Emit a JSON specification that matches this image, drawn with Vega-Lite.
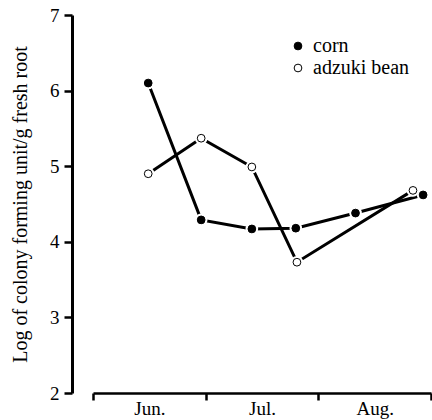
{
  "$schema": "https://vega.github.io/schema/vega-lite/v6.json",
  "autosize": "none",
  "width": 338,
  "height": 378,
  "padding": {"left": 93, "top": 15, "right": 1, "bottom": 27},
  "background": "white",
  "config": {
    "view": {"stroke": null},
    "axis": {"grid": false, "domainColor": "black", "tickColor": "black", "labelColor": "black", "titleColor": "black", "titleFontWeight": "normal"}
  },
  "data": {"values": [
    {"series": "corn", "month": 0.49, "value": 6.1},
    {"series": "corn", "month": 0.96, "value": 4.29},
    {"series": "corn", "month": 1.41, "value": 4.17},
    {"series": "corn", "month": 1.80, "value": 4.18},
    {"series": "corn", "month": 2.33, "value": 4.38},
    {"series": "corn", "month": 2.93, "value": 4.62},
    {"series": "adzuki bean", "month": 0.49, "value": 4.9},
    {"series": "adzuki bean", "month": 0.96, "value": 5.37},
    {"series": "adzuki bean", "month": 1.41, "value": 4.99},
    {"series": "adzuki bean", "month": 1.81, "value": 3.73},
    {"series": "adzuki bean", "month": 2.84, "value": 4.68}
  ]},
  "encoding": {
    "x": {
      "field": "month", "type": "quantitative",
      "scale": {"domain": [0, 3], "nice": false, "zero": false},
      "axis": {
        "title": null,
        "values": [0, 0.5, 1, 1.5, 2, 2.5, 3],
        "labelExpr": "datum.value == 0.5 ? 'Jun.' : datum.value == 1.5 ? 'Jul.' : datum.value == 2.5 ? 'Aug.' : ''",
        "tickOpacity": {"condition": {"test": "datum.value % 1 === 0", "value": 1}, "value": 0},
        "tickSize": 7,
        "tickWidth": 2.5,
        "domainWidth": 2.5,
        "labelFont": "serif",
        "labelFontSize": 19,
        "labelPadding": -1,
        "labelFlush": false,
        "labelOverlap": false
      }
    },
    "y": {
      "field": "value", "type": "quantitative",
      "scale": {"domain": [2, 7], "nice": false, "zero": false},
      "axis": {
        "title": "Log of colony forming unit/g fresh root",
        "values": [2, 3, 4, 5, 6, 7],
        "offset": 21,
        "tickSize": 8,
        "tickWidth": 2.5,
        "domainWidth": 3,
        "labelFont": "serif",
        "titleFont": "serif",
        "labelFontSize": 19,
        "labelPadding": 5,
        "titleFontSize": 20,
        "titlePadding": 19,
        "labelFlush": false
      }
    }
  },
  "layer": [
    {
      "mark": {"type": "line", "color": "black", "strokeWidth": 3},
      "encoding": {"detail": {"field": "series"}}
    },
    {
      "mark": {"type": "point", "filled": true, "color": "white", "size": 160, "opacity": 1, "shape": "circle"}
    },
    {
      "mark": {"type": "point", "filled": true, "stroke": "black", "strokeWidth": 1, "opacity": 1, "shape": "circle"},
      "encoding": {
        "fill": {
          "field": "series", "type": "nominal",
          "scale": {"domain": ["corn", "adzuki bean"], "range": ["black", "white"]},
          "legend": {
            "title": null,
            "orient": "none",
            "legendX": 195,
            "legendY": 21,
            "labelFontSize": 20,
            "labelFont": "serif",
            "labelColor": "black",
            "symbolType": "circle",
            "symbolSize": 60,
            "symbolStrokeColor": "black",
            "symbolStrokeWidth": 1,
            "labelOffset": 5,
            "rowPadding": 2
          }
        },
        "size": {"value": 60}
      }
    }
  ]
}
